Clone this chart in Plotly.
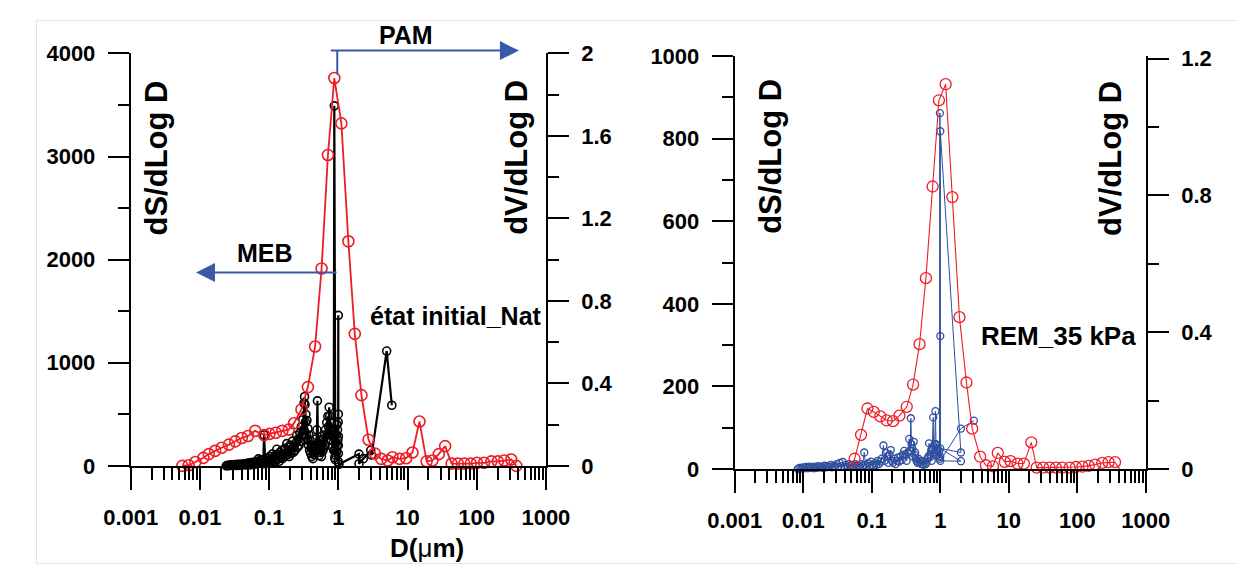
import plotly.graph_objects as go

# ---------------- DATA ----------------
# Left panel : état initial_Nat
PAM_NAT_D = [0.00556, 0.00687, 0.00859, 0.0112, 0.0134, 0.0166, 0.0206, 0.0262, 0.0324, 0.0402,
             0.0495, 0.0628, 0.0845, 0.101, 0.125, 0.155, 0.192, 0.229, 0.293, 0.363,
             0.462, 0.573, 0.708, 0.875, 1.107, 1.397, 1.73, 2.16, 2.73, 3.38,
             4.17, 5.17, 6.06, 7.65, 9.56, 11.8, 14.9, 18.9, 22.9, 28.3,
             35.0, 43.4, 53.5, 66.3, 82.0, 101, 128, 163, 202, 250, 316, 374]
PAM_NAT_V = [0.0, 0.003, 0.019, 0.039, 0.057, 0.073, 0.088, 0.103, 0.119, 0.135,
             0.145, 0.170, 0.150, 0.155, 0.161, 0.170, 0.176, 0.207, 0.274, 0.382,
             0.579, 0.957, 1.508, 1.881, 1.661, 1.089, 0.640, 0.343, 0.127, 0.060,
             0.034, 0.026, 0.042, 0.034, 0.037, 0.065, 0.215, 0.022, 0.026, 0.057,
             0.096, 0.011, 0.011, 0.011, 0.011, 0.015, 0.015, 0.022, 0.022, 0.026, 0.031, 0.0]

MEB_NAT_D = [0.024, 0.025, 0.026, 0.027, 0.028, 0.029, 0.030, 0.031, 0.032, 0.033, 0.034, 0.035, 0.036, 0.037, 0.038, 0.039, 0.040,
             0.042, 0.044, 0.046, 0.048, 0.050, 0.052, 0.054, 0.056, 0.058, 0.060, 0.062, 0.064, 0.066, 0.068, 0.070, 0.072, 0.074, 0.076, 0.078, 0.080, 0.082,
             0.0845,
             0.086, 0.088, 0.090, 0.093, 0.096, 0.099, 0.102, 0.105, 0.108, 0.111, 0.114, 0.117, 0.120, 0.123, 0.126,
             0.129,
             0.132, 0.136, 0.140, 0.144, 0.148, 0.152, 0.156, 0.160, 0.165, 0.170, 0.175,
             0.180,
             0.185, 0.190, 0.195, 0.200, 0.206, 0.212, 0.218, 0.224, 0.230, 0.236, 0.242,
             0.250,
             0.257, 0.264, 0.271, 0.278, 0.285, 0.292, 0.299, 0.306, 0.313, 0.320,
             0.325,
             0.330, 0.335, 0.340, 0.346, 0.352, 0.358, 0.364, 0.370, 0.377, 0.384, 0.391, 0.398, 0.405,
             0.413, 0.421, 0.429, 0.437, 0.446, 0.455, 0.464, 0.473, 0.482, 0.491,
             0.499,
             0.508, 0.518, 0.528, 0.538, 0.548, 0.559, 0.570, 0.581, 0.592, 0.604, 0.616, 0.628, 0.640, 0.653, 0.666, 0.679, 0.692, 0.706, 0.720,
             0.738,
             0.750, 0.765, 0.780, 0.795, 0.810, 0.826, 0.842, 0.858,
             0.875,
             0.885, 0.895, 0.905, 0.915, 0.925, 0.935, 0.945, 0.955, 0.965, 0.975, 0.985, 0.995,
             1.0, 1.0, 1.0, 1.0, 1.0, 1.0,
             1.02, 1.99, 1.99, 2.3, 2.94, 3.03, 5.0, 5.93]
MEB_NAT_V = [0, 5, 2, 8, 3, 10, 4, 6, 12, 3, 8, 15, 5, 10, 6, 18, 8,
             12, 20, 8, 25, 14, 30, 10, 22, 35, 15, 28, 40, 18, 45, 68, 25, 50, 30, 60, 35, 20,
             300,
             40, 25, 55, 30, 70, 45, 90, 35, 60, 114, 50, 80, 40, 100, 65,
             161,
             60, 110, 45, 130, 80, 150, 70, 120, 90, 170, 100,
             216,
             110, 180, 90, 200, 120, 160, 240, 130, 190, 150, 220,
             294,
             180, 260, 200, 320, 240, 380, 300, 450, 350, 610,
             671,
             594, 424, 500, 300, 440, 250, 360, 200, 300, 150, 250, 120, 180,
             90, 160, 70, 140, 110, 200, 130, 260, 180, 350,
             631,
             150, 220, 100, 250, 130, 200, 90, 180, 140, 260, 170, 300, 200, 350, 250, 420, 300, 480, 380,
             569,
             485, 300, 420, 250, 350, 180, 300, 150,
             3492,
             80, 150, 60, 220, 100, 300, 140, 400, 200, 350, 250, 424,
             1460, 501, 285, 198, 120, 40,
             15, 114, 21, 70, 151, 105, 1114, 588]

# Right panel : REM_35 kPa
PAM_REM_D = [0.00588, 0.00708, 0.00887, 0.0110, 0.0136, 0.0169, 0.0210, 0.0259, 0.0322, 0.0399,
             0.0474, 0.0562, 0.0697, 0.0865, 0.107, 0.133, 0.165, 0.204, 0.253, 0.324,
             0.401, 0.498, 0.617, 0.773, 0.955, 1.197, 1.50, 1.905, 2.41, 2.92,
             3.82, 4.63, 5.87, 6.90, 8.73, 10.6, 13.4, 16.6, 21.3, 25.5,
             31.7, 39.3, 48.6, 60.3, 77.3, 95.5, 119, 147, 182, 231, 286, 355, 421]
PAM_REM_V = [-0.005, -0.005, -0.005, -0.005, -0.005, -0.005, -0.005, -0.005, -0.005, -0.005,
             -0.003, 0.030, 0.100, 0.177, 0.167, 0.154, 0.142, 0.140, 0.156, 0.182,
             0.247, 0.365, 0.558, 0.826, 1.078, 1.125, 0.795, 0.444, 0.253, 0.118,
             0.036, 0.011, 0.008, 0.047, 0.021, 0.023, 0.016, 0.016, 0.078, 0.004,
             0.004, 0.004, 0.004, 0.004, 0.004, 0.006, 0.007, 0.009, 0.013, 0.018, 0.020, 0.020, -0.002]

MEB_REM_D = [0.0083, 0.0088, 0.0093, 0.0098, 0.0104, 0.011, 0.0116, 0.0122, 0.0129, 0.0136,
             0.0143, 0.015, 0.0158, 0.0166, 0.0175, 0.0184, 0.0194, 0.0204, 0.0215, 0.0226,
             0.0238, 0.025, 0.0263, 0.0277, 0.0292, 0.0307, 0.0323, 0.034, 0.0358, 0.0377,
             0.0397, 0.0418, 0.044, 0.0463, 0.0487, 0.0513, 0.054, 0.0568, 0.0598, 0.063,
             0.0663, 0.0698, 0.0735, 0.0776, 0.081, 0.085, 0.089, 0.093, 0.097, 0.102,
             0.107, 0.112, 0.117, 0.122, 0.128, 0.134, 0.140, 0.148, 0.154, 0.161,
             0.168, 0.175, 0.182, 0.189, 0.197, 0.205, 0.214, 0.223, 0.232, 0.242,
             0.252, 0.263, 0.274, 0.285, 0.297, 0.31, 0.323, 0.337, 0.352, 0.362,
             0.372, 0.38, 0.39, 0.40, 0.41, 0.42, 0.43, 0.44, 0.45, 0.465,
             0.48, 0.5, 0.515, 0.53, 0.55, 0.57, 0.59, 0.61, 0.63, 0.65,
             0.668, 0.686, 0.705, 0.72, 0.735, 0.75, 0.765, 0.788, 0.80, 0.815,
             0.83, 0.851, 0.865, 0.88, 0.90, 0.92, 0.94, 0.96, 0.975, 0.987,
             1.0, 1.0, 1.0, 2.0, 1.0, 2.0, 1.0, 2.0, 3.09]
MEB_REM_V = [0, 3, 1, 4, 2, 5, 2, 6, 3, 5,
             2, 6, 3, 7, 4, 6, 3, 8, 4, 7,
             5, 10, 4, 8, 5, 12, 6, 15, 7, 17,
             5, 10, 6, 12, 8, 10, 6, 12, 8, 10,
             6, 12, 8, 40, 10, 6, 14, 8, 18, 10,
             8, 14, 10, 20, 12, 18, 25, 57, 20, 39,
             30, 15, 35, 46, 20, 15, 25, 12, 20, 28,
             18, 30, 22, 35, 44, 35, 20, 40, 73, 45,
             123, 60, 50, 30, 66, 35, 40, 25, 20, 15,
             25, 15, 20, 12, 20, 10, 18, 12, 15, 25,
             30, 62, 35, 30, 45, 20, 50, 125, 55, 40,
             60, 140, 60, 45, 35, 50, 30, 40, 25, 862,
             322, 30, 818, 40, 50, 19, 20, 98, 117]

X_TICKS = [0.001, 0.01, 0.1, 1, 10, 100, 1000]
X_TICKTEXT = ["0.001", "0.01", "0.1", "1", "10", "100", "1000"]
X_MINOR = [m * t for t in [0.001, 0.01, 0.1, 1, 10, 100] for m in range(2, 10)]

assert len(MEB_NAT_D) == len(MEB_NAT_V)
assert len(MEB_REM_D) == len(MEB_REM_V)
assert len(PAM_NAT_D) == len(PAM_NAT_V)
assert len(PAM_REM_D) == len(PAM_REM_V)

# ---------------- STYLE ----------------
W, H = 1245, 579
OFF = 8  # page body margin: screen position = paper position + 8
FONT = "Liberation Sans, Arial, sans-serif"
RED = "#EE1C24"
BLUE = "#2F4F9F"
ARROW = "#3A5AA8"


def px(x):
    """screen x (pixels in screenshot) -> paper fraction"""
    return (x - OFF) / W


def py(y):
    return 1 - (y - OFF) / H


fig = go.Figure()

fig.add_trace(go.Scatter(x=MEB_NAT_D, y=MEB_NAT_V, xaxis="x", yaxis="y", mode="lines+markers",
                         line=dict(color="black", width=2.2),
                         marker=dict(symbol="circle-open", size=8, color="black", line=dict(width=1.6)),
                         cliponaxis=False, showlegend=False))
fig.add_trace(go.Scatter(x=PAM_NAT_D, y=PAM_NAT_V, xaxis="x", yaxis="y2", mode="lines+markers",
                         line=dict(color=RED, width=1.8),
                         marker=dict(symbol="circle-open", size=11, color=RED, line=dict(width=1.6)),
                         cliponaxis=False, showlegend=False))
fig.add_trace(go.Scatter(x=MEB_REM_D, y=MEB_REM_V, xaxis="x2", yaxis="y3", mode="lines+markers",
                         line=dict(color=BLUE, width=1),
                         marker=dict(symbol="circle-open", size=7, color=BLUE, line=dict(width=1.3)),
                         cliponaxis=False, showlegend=False))
fig.add_trace(go.Scatter(x=PAM_REM_D, y=PAM_REM_V, xaxis="x2", yaxis="y4", mode="lines+markers",
                         line=dict(color=RED, width=1.1),
                         marker=dict(symbol="circle-open", size=11, color=RED, line=dict(width=1.3)),
                         cliponaxis=False, showlegend=False))

tickfont = dict(family=FONT, size=22, color="black", weight="bold")

xcommon = dict(type="log", range=[-3, 3], tickvals=X_TICKS, ticktext=X_TICKTEXT,
               showgrid=False, zeroline=False, showline=True, linecolor="black", linewidth=2,
               ticks="outside", ticklen=22, tickwidth=2, tickcolor="black", tickfont=tickfont,
               ticklabelstandoff=9,
               minor=dict(tickvals=X_MINOR, ticks="outside", ticklen=12, tickwidth=2, tickcolor="black",
                          showgrid=False))
ycommon = dict(showgrid=False, zeroline=False, showline=True, linecolor="black", linewidth=2,
               ticks="outside", ticklen=21, tickwidth=2, tickcolor="black", tickfont=tickfont,
               ticklabelstandoff=8)

LX = [px(106.9), px(540.1)]
LY = [py(474), py(43)]
RX = [px(737.2), px(1166.2)]
RY = [py(477.3), py(45.7)]

fig.update_layout(
    width=W, height=H, autosize=False,
    margin=dict(l=0, r=0, t=0, b=0),
    paper_bgcolor="white", plot_bgcolor="rgba(0,0,0,0)",
    xaxis=dict(domain=LX, anchor="y", **xcommon),
    yaxis=dict(domain=LY, anchor="x", range=[0, 4000], dtick=1000,
               minor=dict(dtick=500, ticks="outside", ticklen=11, tickwidth=2, tickcolor="black"),
               **ycommon),
    yaxis2=dict(overlaying="y", anchor="x", side="right", range=[0, 2], dtick=0.4,
                minor=dict(dtick=0.2, ticks="outside", ticklen=11, tickwidth=2, tickcolor="black"),
                **ycommon),
    xaxis2=dict(domain=RX, anchor="y3", **xcommon),
    yaxis3=dict(domain=RY, anchor="x2", range=[0, 1000], dtick=200,
                minor=dict(dtick=100, ticks="outside", ticklen=11, tickwidth=2, tickcolor="black"),
                **ycommon),
    yaxis4=dict(overlaying="y3", anchor="x2", side="right", range=[0, 1.2073], dtick=0.4,
                minor=dict(dtick=0.2, ticks="outside", ticklen=11, tickwidth=2, tickcolor="black"),
                **ycommon),
)


def label(text, x, y, size, angle=0, xanchor="center"):
    fig.add_annotation(text=text, x=px(x), y=py(y), xref="paper", yref="paper",
                       showarrow=False, textangle=angle, xanchor=xanchor, yanchor="middle",
                       font=dict(family=FONT, size=size, color="black", weight="bold"))


label("dS/dLog D", 134, 152, 31, -90)
label("dV/dLog D", 510, 152, 31, -90)
label("dS/dLog D", 775, 150, 31, -90)
label("dV/dLog D", 1130, 153, 31, -90)
label("PAM", 394.5, 24, 25)
label("MEB", 246.5, 251, 25)
label("état initial_Nat", 354, 317, 25, xanchor="left")
label("REM_35 kPa", 992, 338, 26, xanchor="left")
label("D(<span style='font-weight:normal'>μ</span>m)", 416, 560, 26)

# arrows
fig.add_shape(type="line", xref="paper", yref="paper", x0=px(322.4), x1=px(322.4), y0=py(65), y1=py(40),
              line=dict(color=ARROW, width=2))
fig.add_annotation(x=px(512), y=py(40), xref="paper", yref="paper", ax=-(512 - 322.4), ay=0,
                   showarrow=True, arrowhead=2, arrowsize=1.9, arrowwidth=2, arrowcolor=ARROW, text="")
fig.add_annotation(x=px(175), y=py(272), xref="paper", yref="paper", ax=(317 - 175), ay=0,
                   showarrow=True, arrowhead=2, arrowsize=1.9, arrowwidth=2, arrowcolor=ARROW, text="")

# faint frame around the figure
fig.add_shape(type="rect", xref="paper", yref="paper", x0=px(8.5), x1=px(1270), y0=py(576), y1=py(8.5),
              line=dict(color="#e3e3e3", width=1), layer="below")

fig.write_html("out.html")
